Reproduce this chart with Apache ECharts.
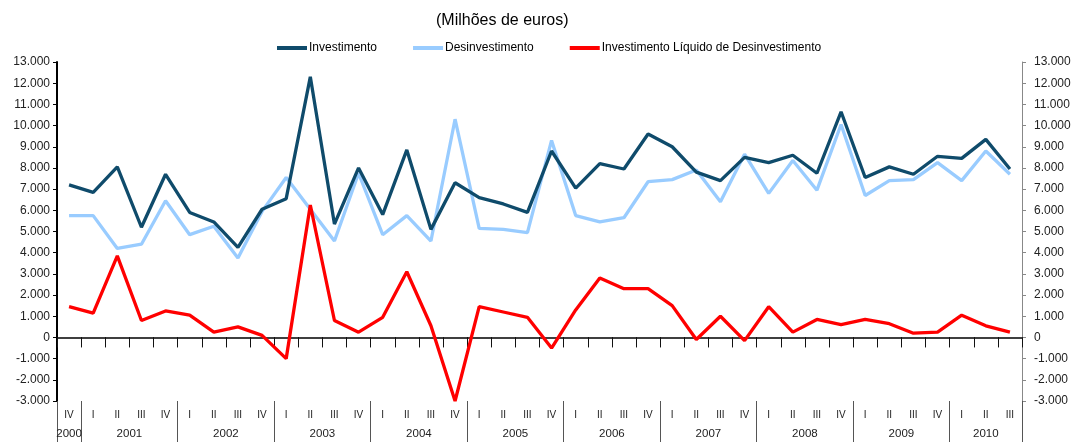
<!DOCTYPE html>
<html>
<head>
<meta charset="utf-8">
<script src="https://cdn.jsdelivr.net/npm/echarts@6/dist/echarts.min.js"></script>
<style>
html,body{margin:0;padding:0;background:#fff;}
#chart{width:1076px;height:442px;}
</style>
</head>
<body>
<div id="chart"></div>
<script>
const quarters = ['IV','I','II','III','IV','I','II','III','IV','I','II','III','IV','I','II','III','IV','I','II','III','IV','I','II','III','IV','I','II','III','IV','I','II','III','IV','I','II','III','IV','I','II','III'];
const quarterYears = ['2000','2001','2001','2001','2001','2002','2002','2002','2002','2003','2003','2003','2003','2004','2004','2004','2004','2005','2005','2005','2005','2006','2006','2006','2006','2007','2007','2007','2007','2008','2008','2008','2008','2009','2009','2009','2009','2010','2010','2010'];
const investimento = [7200,6850,8050,5200,7700,5900,5450,4250,6050,6550,12300,5350,8000,5800,8850,5100,7300,6600,6300,5900,8800,7050,8200,7950,9600,9000,7800,7400,8500,8250,8600,7750,10650,7550,8050,7700,8550,8450,9350,7950];
const desinvestimento = [5750,5750,4200,4400,6450,4850,5250,3750,5950,7550,6050,4550,7750,4850,5750,4550,10300,5150,5100,4950,9300,5750,5450,5650,7350,7450,7900,6400,8650,6800,8350,6950,10050,6700,7400,7450,8250,7400,8800,7700];
const liquido = [1450,1150,3850,800,1250,1050,250,500,100,-1000,6250,800,250,950,3100,550,-3000,1450,1200,950,-500,1300,2800,2300,2300,1500,-100,1000,-150,1450,250,850,600,850,650,200,250,1050,550,250];
const yTicks = {min:-3000, max:13000, interval:1000};

// year spans derived from category years
const yearBounds = [0];
const yearCenters = [];
const yearNames = [];
let start = 0;
for (let i = 1; i <= quarterYears.length; i++) {
  if (i === quarterYears.length || quarterYears[i] !== quarterYears[i-1]) {
    yearBounds.push(i);
    yearCenters.push((start + i) / 2);
    yearNames.push(quarterYears[start]);
    start = i;
  }
}

function fmt(v){
  const s = String(Math.abs(v)).replace(/\B(?=(\d{3})+(?!\d))/g,'.');
  return (v < 0 ? '-' : '') + s;
}

const chart = echarts.init(document.getElementById('chart'));
const FONT = 'Liberation Sans, Arial, sans-serif';
const NARROW = 'Liberation Sans Narrow, Arial Narrow, sans-serif';
chart.setOption({
  animation:false,
  title:{text:'(Milhões de euros)', left:431, top:8, textStyle:{fontFamily:NARROW, fontSize:16, fontWeight:'normal', color:'#000'}},
  legend:{
    left:272, top:37, itemWidth:30, itemHeight:4, itemGap:36, icon:'rect',
    textStyle:{fontFamily:NARROW, fontSize:12, color:'#000', padding:[0,0,0,-3]},
    data:['Investimento','Desinvestimento','Investimento Líquido de Desinvestimento']
  },
  grid:{left:57, right:54, top:62, bottom:41, containLabel:false},
  xAxis:[
    {type:'category', data:quarters, boundaryGap:true,
     axisLine:{onZero:true, lineStyle:{color:'#000', width:1.5}},
     axisTick:{show:true, interval:0, length:4, lineStyle:{color:'#000'}},
     axisLabel:{show:false}, splitLine:{show:false}},
    {type:'category', data:quarters, boundaryGap:true, position:'bottom',
     axisLine:{show:false},
     axisTick:{show:true, interval:0, length:10, lineStyle:{color:'#111'}},
     axisLabel:{interval:0, margin:9, fontFamily:FONT, fontSize:10, color:'#222'},
     splitLine:{show:false}},
    {type:'value', min:0, max:quarters.length, position:'bottom',
     axisLine:{show:false},
     axisTick:{show:true, customValues:yearBounds, length:41, lineStyle:{color:'#555'}},
     axisLabel:{customValues:yearCenters, margin:27, fontFamily:FONT, fontSize:11.5, color:'#222',
       formatter:function(v){ const k = yearCenters.indexOf(v); return k >= 0 ? yearNames[k] : ''; }},
     splitLine:{show:false}}
  ],
  yAxis:[
    {type:'value', min:yTicks.min, max:yTicks.max, interval:yTicks.interval, position:'left',
     axisLine:{show:true, lineStyle:{color:'#000', width:2}},
     axisTick:{show:true, length:4, lineStyle:{color:'#000'}},
     axisLabel:{formatter:fmt, margin:7, fontFamily:FONT, fontSize:12, color:'#222'},
     splitLine:{show:false}},
    {type:'value', min:yTicks.min, max:yTicks.max, interval:yTicks.interval, position:'right',
     axisLine:{show:true, lineStyle:{color:'#888', width:1}},
     axisTick:{show:true, length:4, lineStyle:{color:'#888'}},
     axisLabel:{formatter:fmt, margin:12, fontFamily:FONT, fontSize:12, color:'#222'},
     splitLine:{show:false}}
  ],
  series:[
    {name:'Investimento', type:'line', data:investimento, symbol:'none', color:'#0f4b6b', lineStyle:{width:3.3, color:'#0f4b6b'}, z:3},
    {name:'Desinvestimento', type:'line', data:desinvestimento, symbol:'none', color:'#99ccff', lineStyle:{width:3.3, color:'#99ccff'}, z:2},
    {name:'Investimento Líquido de Desinvestimento', type:'line', data:liquido, symbol:'none', color:'#ff0000', lineStyle:{width:3.3, color:'#ff0000'}, z:4}
  ]
});
</script>
</body>
</html>
